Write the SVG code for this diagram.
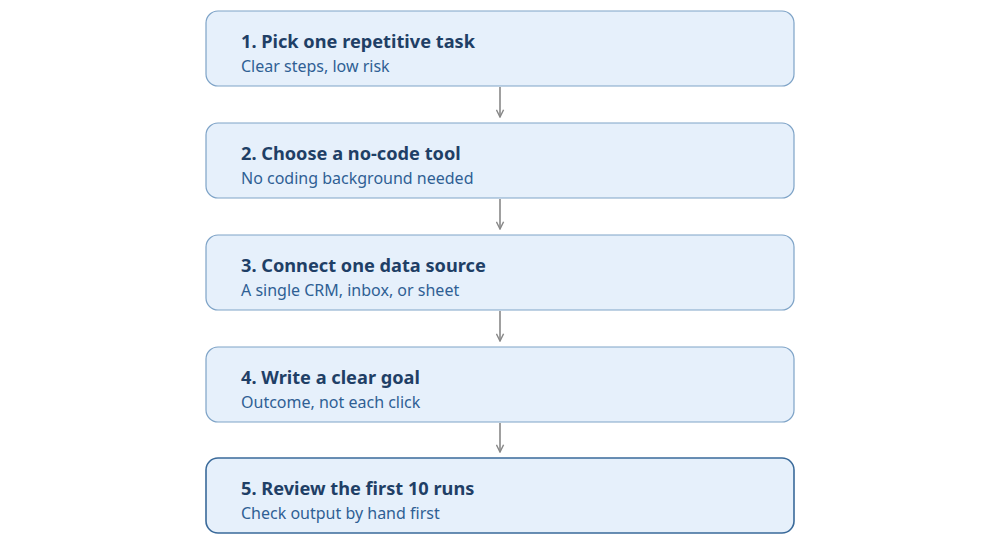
<svg xmlns="http://www.w3.org/2000/svg" width="1000" height="550" viewBox="0 0 1000 550">
<style>
.box{fill:#e6f0fb;stroke:#7ea3c7;stroke-width:1.2}
.last{stroke:#3a6a9a;stroke-width:1.6}
.t{font-family:"Noto Sans","Open Sans",sans-serif;font-size:18.2px;font-weight:bold;fill:#1f3f66}
.s{font-family:"Noto Sans","Open Sans",sans-serif;font-size:16px;fill:#2f5f94}
.c{stroke:#888;stroke-width:1.6;fill:none}
</style>
<defs><marker id="a" viewBox="0 0 10 10" refX="9" refY="5" markerWidth="9" markerHeight="9" orient="auto" markerUnits="userSpaceOnUse"><path d="M1,1 L9,5 L1,9" fill="none" stroke="#888" stroke-width="1.6"/></marker></defs>
<g id="connectors">
<line class="c" x1="500" y1="87" x2="500" y2="117" marker-end="url(#a)"/>
<line class="c" x1="500" y1="199" x2="500" y2="229" marker-end="url(#a)"/>
<line class="c" x1="500" y1="311" x2="500" y2="341" marker-end="url(#a)"/>
<line class="c" x1="500" y1="423" x2="500" y2="452" marker-end="url(#a)"/>
</g>
<g id="n1"><rect class="box" x="206" y="11" width="588" height="75" rx="12"/><text class="t" x="241" y="48">1. Pick one repetitive task</text><text class="s" x="241" y="72">Clear steps, low risk</text></g>
<g id="n2"><rect class="box" x="206" y="123" width="588" height="75" rx="12"/><text class="t" x="241" y="160">2. Choose a no-code tool</text><text class="s" x="241" y="184">No coding background needed</text></g>
<g id="n3"><rect class="box" x="206" y="235" width="588" height="75" rx="12"/><text class="t" x="241" y="272">3. Connect one data source</text><text class="s" x="241" y="296">A single CRM, inbox, or sheet</text></g>
<g id="n4"><rect class="box" x="206" y="347" width="588" height="75" rx="12"/><text class="t" x="241" y="384">4. Write a clear goal</text><text class="s" x="241" y="408">Outcome, not each click</text></g>
<g id="n5"><rect class="box last" x="206" y="458" width="588" height="75" rx="12"/><text class="t" x="241" y="495">5. Review the first 10 runs</text><text class="s" x="241" y="519">Check output by hand first</text></g>
</svg>
